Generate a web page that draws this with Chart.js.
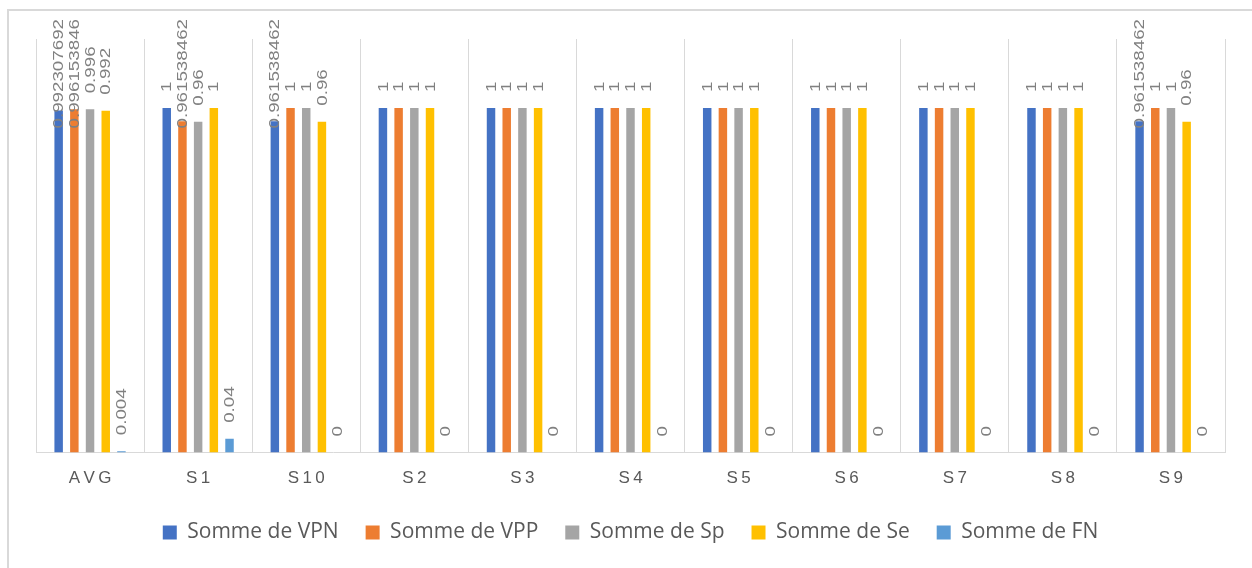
<!DOCTYPE html>
<html>
<head>
<meta charset="utf-8">
<script src="https://cdn.jsdelivr.net/npm/chart.js@4"></script>
<style>
  html, body { margin: 0; padding: 0; background: #ffffff; }
  #wrap { position: relative; width: 1252px; height: 568px; overflow: hidden; }
  #frame { position: absolute; left: 7px; top: 9px; width: 1400px; height: 700px; border-left: 2px solid #d9d9d9; border-top: 2px solid #d9d9d9; box-sizing: border-box; }
  canvas { position: absolute; left: 0; top: 0; }
</style>
</head>
<body>
<div id="wrap">
  <div id="frame"></div>
  <canvas id="c" width="1252" height="568"></canvas>
</div>
<script>
const categories = ["AVG", "S1", "S10", "S2", "S3", "S4", "S5", "S6", "S7", "S8", "S9"];
const seriesNames = ["Somme de VPN", "Somme de VPP", "Somme de Sp", "Somme de Se", "Somme de FN"];
const vpn = [0.992307692, 1, 0.961538462, 1, 1, 1, 1, 1, 1, 1, 0.961538462];
const vpp = [0.996153846, 0.961538462, 1, 1, 1, 1, 1, 1, 1, 1, 1];
const sp  = [0.996, 0.96, 1, 1, 1, 1, 1, 1, 1, 1, 1];
const se  = [0.992, 1, 0.96, 1, 1, 1, 1, 1, 1, 1, 0.96];
const fn  = [0.004, 0.04, 0, 0, 0, 0, 0, 0, 0, 0, 0];
const colors = ["#4472C4", "#ED7D31", "#A5A5A5", "#FFC000", "#5B9BD5"];
const allSeries = [vpn, vpp, sp, se, fn];

const labelPlugin = {
  id: 'rotLabels',
  afterDatasetsDraw(chart) {
    const ctx = chart.ctx;
    ctx.save();
    ctx.font = '15px "Liberation Sans"';
    ctx.fillStyle = '#808080';
    ctx.textAlign = 'left';
    ctx.textBaseline = 'middle';
    const sx = 1.25;
    chart.data.datasets.forEach((ds, di) => {
      const meta = chart.getDatasetMeta(di);
      meta.data.forEach((el, i) => {
        const txt = String(ds.data[i]);
        const w = ctx.measureText(txt).width * sx;
        let start = el.y - 16;
        if (start - w < 19) start = 19 + w;
        ctx.save();
        ctx.translate(el.x + 0.5, start);
        ctx.rotate(-Math.PI / 2);
        ctx.scale(sx, 1);
        ctx.fillText(txt, 0, 0);
        ctx.restore();
      });
    });
    ctx.restore();
  }
};

new Chart(document.getElementById('c'), {
  type: 'bar',
  data: {
    labels: categories,
    datasets: allSeries.map((d, i) => ({
      label: seriesNames[i],
      data: d,
      backgroundColor: colors[i],
      borderWidth: 0,
      categoryPercentage: 0.726,
      barPercentage: 0.54
    }))
  },
  options: {
    responsive: false,
    animation: false,
    devicePixelRatio: 1,
    layout: { padding: { left: 36, right: 27, top: 39, bottom: 15 } },
    scales: {
      x: {
        grid: { offset: true, color: '#d9d9d9', drawTicks: false, lineWidth: 1 },
        border: { color: '#d9d9d9' },
        ticks: {
          color: '#595959',
          font: { family: '"Liberation Sans"', size: 17 },
          padding: 16,
          callback: function (v) { return categories[v].split('').join('\u2009'); }
        },
        afterFit: function (scale) { scale.height = scale.height - 10; }
      },
      y: {
        display: false,
        min: 0,
        max: 1.2
      }
    },
    plugins: {
      legend: {
        position: 'bottom',
        labels: {
          color: '#595959',
          font: { family: '"Open Sans"', size: 21 },
          boxWidth: 14,
          boxHeight: 14,
          padding: 27
        }
      },
      tooltip: { enabled: false }
    }
  },
  plugins: [labelPlugin]
});
</script>
</body>
</html>
